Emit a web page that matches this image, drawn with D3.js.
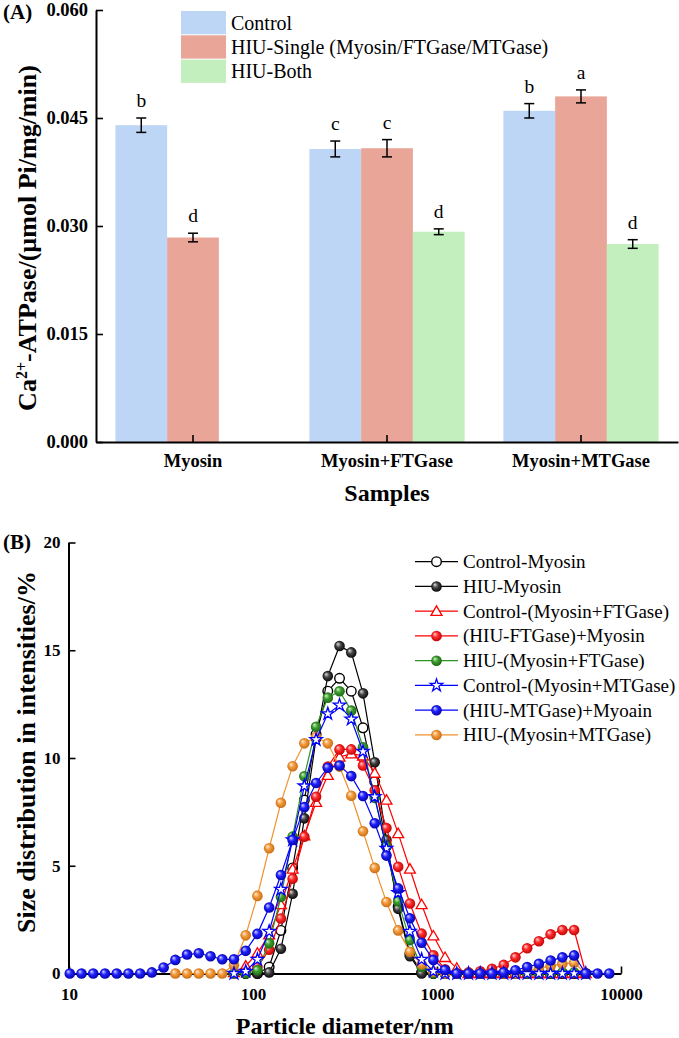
<!DOCTYPE html>
<html>
<head>
<meta charset="utf-8">
<script src="https://cdn.jsdelivr.net/npm/d3@7"></script>
<style>
    body { margin: 0; background: #fff; }
    svg text { font-family: "Liberation Serif", "Times New Roman", serif; }
</style>
</head>
<body>
<div id="chart"></div>
<script>

/*
PANEL A DATA - Ca2+-ATPase activity
*/
const groups = ["Myosin", "Myosin+FTGase", "Myosin+MTGase"];
const barSeries = ["Control", "HIU-Single (Myosin/FTGase/MTGase)", "HIU-Both"];
const controlVals = [0.0440, 0.0407, 0.0460];
const singleVals  = [0.0284, 0.0408, 0.0480];
const bothVals    = [null, 0.0292, 0.0275];
const controlErr  = [0.0010, 0.0011, 0.0010];
const singleErr   = [0.0006, 0.0012, 0.0009];
const bothErr     = [null, 0.0004, 0.0006];
const controlSig  = ["b", "c", "b"];
const singleSig   = ["d", "c", "a"];
const bothSig     = [null, "d", "d"];
const yTicksA = [0, 0.015, 0.030, 0.045, 0.060];

/*
PANEL B DATA - particle size distribution (instrument size classes, nm)
*/
const _ = null;
const bins = [10.1, 11.7, 13.54, 15.69, 18.17, 21.04, 24.36, 28.21, 32.67, 37.84,
    43.82, 50.75, 58.77, 68.06, 78.82, 91.28, 105.7, 122.4, 141.8, 164.2,
    190.1, 220.2, 255.0, 295.3, 342.0, 396.1, 458.7, 531.2, 615.1, 712.4,
    825.0, 955.4, 1106, 1281, 1484, 1718, 1990, 2305, 2669, 3091,
    3580, 4145, 4801, 5560, 6439, 7456, 8635];

const controlMyosin = [_, _, _, _, _, _, _, _, _, _,
    _, _, _, _, _, 0, 0, 0.3, 2.0, 4.9,
    8.05, 11.1, 13.1, 13.7, 13.1, 11.4, 8.9, 5.9, 3.1, 0.9,
    0.05, 0, 0, 0, 0, 0, 0, 0, 0, 0,
    0, 0, 0, 0, 0, _, _];
const hiuMyosin = [_, _, _, _, _, _, _, _, _, _,
    _, _, _, _, _, 0, 0, 0.05, 1.15, 3.7,
    7.2, 10.9, 13.8, 15.2, 14.9, 13.0, 9.8, 6.2, 3.0, 0.8,
    0, 0, 0, 0, 0, 0, 0, 0, 0, 0,
    0, 0, 0, 0, 0, _, _];
const controlFT = [_, _, _, _, _, _, _, _, _, _,
    _, _, _, _, 0.05, 0.35, 0.95, 1.8, 3.2, 4.85,
    6.4, 7.95, 9.2, 10.05, 10.2, 10.1, 9.3, 8.05, 6.5, 4.85,
    3.2, 1.75, 0.75, 0.25, 0, 0, 0, 0, 0, 0,
    0, 0, 0, 0, 0, _, _];
const hiuFTMyosin = [_, _, _, _, _, _, _, _, _, _,
    _, _, _, _, 0, 0.05, 0.3, 1.1, 2.55, 4.4,
    6.35, 8.2, 9.6, 10.4, 10.4, 9.65, 8.5, 6.75, 4.95, 3.25,
    1.85, 0.85, 0.2, 0, 0.05, 0.1, 0.22, 0.4, 0.75, 1.17,
    1.5, 1.82, 2.02, 2.02, 0, _, _];
const hiuBothFT = [_, _, _, _, _, _, _, _, _, _,
    _, _, _, _, 0, 0, 0.15, 1.4, 3.55, 6.35,
    9.15, 11.45, 12.8, 13.1, 12.2, 10.5, 8.15, 5.9, 3.35, 1.55,
    0.3, 0, 0, 0, 0, 0, 0, 0, 0, 0,
    0, 0, 0.05, 0.05, 0, _, _];
const controlMT = [_, _, _, _, _, _, _, _, _, _,
    _, _, _, _, 0, 0.1, 0.65, 1.95, 3.9, 6.2,
    8.7, 10.85, 12.05, 12.45, 11.8, 10.3, 8.2, 5.8, 3.75, 1.95,
    0.65, 0.1, 0, 0, 0, 0, 0, 0, 0, 0,
    0, 0, 0, 0, 0, _, _];
const hiuMTMyosin = [0, 0, 0, 0, 0, 0, 0, 0.05, 0.28, 0.63,
    0.88, 0.94, 0.8, 0.66, 0.66, 1.05, 1.84, 3.06, 4.57, 6.2,
    7.72, 8.84, 9.55, 9.65, 9.16, 8.24, 6.97, 5.47, 3.95, 2.56,
    1.43, 0.63, 0.16, 0, 0, 0, 0, 0.05, 0.15, 0.3,
    0.45, 0.6, 0.75, 0.84, 0, 0, 0];
const hiuBothMT = [_, _, _, _, _, _, _, _, _, 0,
    0, 0, 0, 0, 0.4, 1.77, 3.6, 5.81, 7.92, 9.62,
    10.68, 10.98, 10.68, 9.6, 8.25, 6.6, 4.9, 3.32, 2.0, 1.01,
    0.43, 0.08, 0, 0, 0, 0, 0, 0, 0, 0.1,
    0.25, 0.35, 0.45, 0.5, 0, _, _];

const lineNames = ["Control-Myosin", "HIU-Myosin", "Control-(Myosin+FTGase)", "(HIU-FTGase)+Myosin",
    "HIU-(Myosin+FTGase)", "Control-(Myosin+MTGase)", "(HIU-MTGase)+Myoain", "HIU-(Myosin+MTGase)"];
const lineVals = [controlMyosin, hiuMyosin, controlFT, hiuFTMyosin, hiuBothFT, controlMT, hiuMTMyosin, hiuBothMT];
const xTicksB = [10, 100, 1000, 10000];
const yTicksB = [0, 5, 10, 15, 20];

// styles
const barColors = ["#bed6f6", "#e8a598", "#c2efbd"];
const lineColors = ["#000000", "#000000", "#ff0000", "#ff0000", "#2e9422", "#0000ff", "#0000ff", "#f0902c"];
const lineMarks = ["open", "ball", "tri", "ball", "ball", "star", "ball", "ball"];
const ballGrad = {
    "#000000": ["#e0e0e0", "#444444", "#000000"],
    "#ff0000": ["#ffd6d6", "#ff2a2a", "#b80000"],
    "#2e9422": ["#d8f3d0", "#3a9e2c", "#1c6012"],
    "#0000ff": ["#d8d8ff", "#2020ff", "#0000a0"],
    "#f0902c": ["#fff0dc", "#f39a3c", "#c2680e"]
};
const drawOrder = [0, 1, 2, 3, 4, 7, 5, 6];

const width = 679;
const height = 1038;

const svg = d3.select("#chart")
    .append("svg")
    .attr("width", width)
    .attr("height", height)
    .attr("font-family", "Liberation Serif");

const defs = svg.append("defs");
Object.keys(ballGrad).forEach(function(c, i) {
    const g = defs.append("radialGradient")
        .attr("id", "ball" + i)
        .attr("cx", "50%").attr("cy", "50%").attr("r", "55%")
        .attr("fx", "32%").attr("fy", "30%");
    g.append("stop").attr("offset", "0%").attr("stop-color", ballGrad[c][0]);
    g.append("stop").attr("offset", "45%").attr("stop-color", ballGrad[c][1]);
    g.append("stop").attr("offset", "100%").attr("stop-color", ballGrad[c][2]);
});
function gradId(c) { return "url(#ball" + Object.keys(ballGrad).indexOf(c) + ")"; }

/*
PANEL A
*/
const A = {left: 96, right: 678, top: 10, bottom: 442};

const xA = d3.scaleBand().domain(groups).range([A.left, A.right]);
const yA = d3.scaleLinear().domain([0, 0.06]).range([A.bottom, A.top]);
const groupW = xA.bandwidth() * 0.8;
const xInner = d3.scaleBand().domain(barSeries).range([0, groupW]);

const barVals = [controlVals, singleVals, bothVals];
const barErrs = [controlErr, singleErr, bothErr];
const barSigs = [controlSig, singleSig, bothSig];

barSeries.forEach(function(s, i) {
    groups.forEach(function(g, j) {
        const v = barVals[i][j];
        if (v === null) return;
        const x = xA(g) + (xA.bandwidth() - groupW) / 2 + xInner(s);
        svg.append("rect")
            .attr("x", x)
            .attr("y", yA(v))
            .attr("width", xInner.bandwidth())
            .attr("height", yA(0) - yA(v))
            .attr("fill", barColors[i]);

        const cx = x + xInner.bandwidth() / 2;
        const e = barErrs[i][j];
        svg.append("line")
            .attr("x1", cx).attr("x2", cx)
            .attr("y1", yA(v - e)).attr("y2", yA(v + e))
            .attr("stroke", "#000").attr("stroke-width", 1.5);
        [v - e, v + e].forEach(function(ev) {
            svg.append("line")
                .attr("x1", cx - 5).attr("x2", cx + 5)
                .attr("y1", yA(ev)).attr("y2", yA(ev))
                .attr("stroke", "#000").attr("stroke-width", 1.5);
        });
        svg.append("text")
            .attr("x", cx)
            .attr("y", yA(v + e) - 11)
            .attr("text-anchor", "middle")
            .attr("font-size", 19.5)
            .text(barSigs[i][j]);
    });
});

const yAxisA = svg.append("g")
    .attr("transform", `translate(${A.left},0)`)
    .call(d3.axisLeft(yA).tickValues(yTicksA).tickSize(-7).tickSizeOuter(0)
        .tickPadding(8).tickFormat(d3.format(".3f")));

const xAxisA = svg.append("g")
    .attr("transform", `translate(0,${A.bottom})`)
    .call(d3.axisBottom(xA).tickSize(-7).tickSizeOuter(0).tickPadding(12));

[yAxisA, xAxisA].forEach(function(ax) {
    ax.select(".domain").attr("stroke-width", 2);
    ax.selectAll(".tick line").attr("stroke-width", 1.6);
    ax.selectAll(".tick text")
        .attr("font-family", "Liberation Serif")
        .attr("font-weight", "bold")
        .attr("font-size", 18.5)
        .attr("fill", "#000");
});

// legend A
barSeries.forEach(function(s, i) {
    svg.append("rect")
        .attr("x", 181).attr("y", 11 + i * 24.3)
        .attr("width", 45).attr("height", 23.3)
        .attr("fill", barColors[i]);
    svg.append("text")
        .attr("x", 231).attr("y", 29.5 + i * 24.3)
        .attr("font-size", 20)
        .text(s);
});

svg.append("text")
    .attr("x", 3).attr("y", 19)
    .attr("font-weight", "bold").attr("font-size", 21)
    .text("(A)");

const yTitleA = svg.append("text")
    .attr("transform", "translate(36,238) rotate(-90)")
    .attr("text-anchor", "middle")
    .attr("font-weight", "bold")
    .attr("font-size", 26);
yTitleA.append("tspan").text("Ca");
yTitleA.append("tspan").attr("dy", -9).attr("font-size", 16).text("2+");
yTitleA.append("tspan").attr("dy", 9).text("-ATPase/(\u00b5mol Pi/mg/min)");

svg.append("text")
    .attr("x", (A.left + A.right) / 2).attr("y", 501)
    .attr("text-anchor", "middle")
    .attr("font-weight", "bold").attr("font-size", 24)
    .text("Samples");

/*
PANEL B
*/
const B = {left: 68.5, right: 621, top: 542.5, bottom: 973.5};

const xB = d3.scaleLog().domain([10, 10000]).range([69, B.right]);
const yB = d3.scaleLinear().domain([0, 20]).range([B.bottom, B.top]);

const yAxisB = svg.append("g")
    .attr("transform", `translate(${B.left},0)`)
    .call(d3.axisLeft(yB).tickValues(yTicksB).tickSize(-7).tickSizeOuter(0).tickPadding(8));

const xAxisB = svg.append("g")
    .attr("transform", `translate(0,${B.bottom})`)
    .call(d3.axisBottom(xB).tickValues(xTicksB).tickSize(-7).tickSizeOuter(0)
        .tickPadding(14).tickFormat(d3.format("d")));

[yAxisB, xAxisB].forEach(function(ax) {
    ax.select(".domain").attr("stroke-width", 2);
    ax.selectAll(".tick line").attr("stroke-width", 1.6);
    ax.selectAll(".tick text")
        .attr("font-family", "Liberation Serif")
        .attr("font-weight", "bold")
        .attr("font-size", 17)
        .attr("fill", "#000");
});

const line = d3.line()
    .x(function(d) { return xB(d.x); })
    .y(function(d) { return yB(d.y); });

function drawMark(g, kind, color, x, y) {
    if (kind === "open") {
        g.append("circle").attr("cx", x).attr("cy", y).attr("r", 4.8)
            .attr("fill", "#fff").attr("stroke", color).attr("stroke-width", 1.4);
    } else if (kind === "ball") {
        g.append("circle").attr("cx", x).attr("cy", y).attr("r", 5.3)
            .attr("fill", gradId(color));
    } else if (kind === "tri") {
        g.append("path").attr("d", d3.symbol(d3.symbolTriangle, 52)())
            .attr("transform", `translate(${x},${y + 1})`)
            .attr("fill", "#fff").attr("stroke", color).attr("stroke-width", 1.3);
    } else if (kind === "star") {
        g.append("path").attr("d", d3.symbol(d3.symbolStar, 48)())
            .attr("transform", `translate(${x},${y})`)
            .attr("fill", "#fff").attr("stroke", color).attr("stroke-width", 1.3);
    }
}

drawOrder.forEach(function(k) {
    const pts = [];
    bins.forEach(function(b, i) {
        if (lineVals[k][i] !== null) pts.push({x: b, y: lineVals[k][i]});
    });
    const g = svg.append("g");
    g.append("path")
        .attr("d", line(pts))
        .attr("fill", "none")
        .attr("stroke", lineColors[k])
        .attr("stroke-width", 1.2);
    pts.forEach(function(p) {
        drawMark(g, lineMarks[k], lineColors[k], xB(p.x), yB(p.y));
    });
});

// legend B
lineNames.forEach(function(n, i) {
    const ly = 561.7 + i * 24.75;
    const g = svg.append("g");
    g.append("line")
        .attr("x1", 415).attr("x2", 458)
        .attr("y1", ly).attr("y2", ly)
        .attr("stroke", lineColors[i]).attr("stroke-width", 1.2);
    drawMark(g, lineMarks[i], lineColors[i], 436.5, ly);
    g.append("text")
        .attr("x", 463).attr("y", ly + 6.5)
        .attr("font-size", 19)
        .text(n);
});

svg.append("text")
    .attr("x", 3).attr("y", 549)
    .attr("font-weight", "bold").attr("font-size", 21)
    .text("(B)");

svg.append("text")
    .attr("transform", "translate(35,752) rotate(-90)")
    .attr("text-anchor", "middle")
    .attr("font-weight", "bold").attr("font-size", 26)
    .text("Size distribution in intensities/%");

svg.append("text")
    .attr("x", (B.left + B.right) / 2).attr("y", 1034)
    .attr("text-anchor", "middle")
    .attr("font-weight", "bold").attr("font-size", 24)
    .text("Particle diameter/nm");

</script>
</body>
</html>
